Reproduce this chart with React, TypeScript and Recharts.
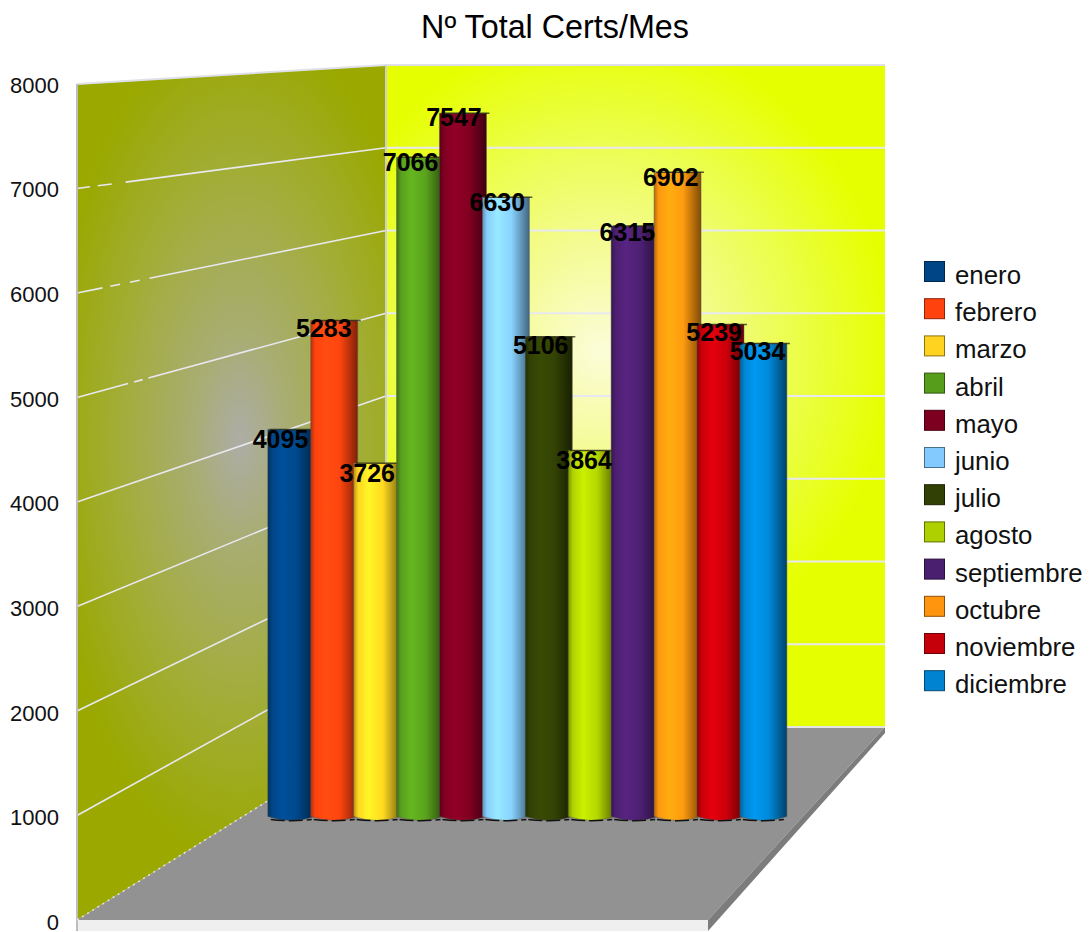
import { Bar, ComposedChart, Customized, LabelList, Line, XAxis, YAxis } from "recharts";

const months = [
  "enero", "febrero", "marzo", "abril", "mayo", "junio",
  "julio", "agosto", "septiembre", "octubre", "noviembre", "diciembre",
];
const certs = [4095, 5283, 3726, 7066, 7547, 6630, 5106, 3864, 6315, 6902, 5239, 5034];
const colors = [
  "#004586", "#ff420e", "#ffd320", "#579d1c", "#7e0021", "#83caff",
  "#314004", "#aecf00", "#4b1f6f", "#ff950e", "#c5000b", "#0084d1",
];
const yTicks = [0, 1000, 2000, 3000, 4000, 5000, 6000, 7000, 8000];

const data = months.map((mes, i) => ({ mes, total: certs[i] }));

const FONT = "'Liberation Sans', Arial, sans-serif";
const BAR_W = 47;

// walls of the fake 3d box
const frontY = (v: number) => 920 - (v * 836) / 8000;
const backY = (v: number) => 727 - (v * 662) / 8000;

// the reference's grid lines break up near the left edge of the side wall
const wallDash: Record<number, string> = {
  5000: "53 6 9 6 999",
  6000: "26 8 10 10 10 10 999",
  7000: "13 8 14 14 999",
};

function shade(hex: string, k: number) {
  const n = parseInt(hex.slice(1), 16);
  const ch = (c: number) => Math.min(255, Math.round(c * k));
  return `rgb(${ch((n >> 16) & 255)},${ch((n >> 8) & 255)},${ch(n & 255)})`;
}

function Box() {
  return (
    <g>
      <defs>
        <radialGradient id="wallLeft" gradientUnits="userSpaceOnUse" cx="240" cy="440" r="400"
          gradientTransform="translate(240 440) scale(0.48 1.05) translate(-240 -440)">
          <stop offset="0%" stopColor="#adada6" />
          <stop offset="25%" stopColor="#a8ad72" />
          <stop offset="65%" stopColor="#a2ad35" />
          <stop offset="100%" stopColor="#9aa800" />
        </radialGradient>
        <radialGradient id="wallBack" gradientUnits="userSpaceOnUse" cx="600" cy="350" r="290"
          gradientTransform="translate(600 350) scale(1 1.1) translate(-600 -350)">
          <stop offset="0%" stopColor="#fbfdd8" />
          <stop offset="35%" stopColor="#f4fb90" />
          <stop offset="70%" stopColor="#ebfe45" />
          <stop offset="100%" stopColor="#e6ff00" />
        </radialGradient>
        {colors.map((c, i) => (
          <linearGradient key={c} id={`cyl${i}`} x1="0" y1="0" x2="1" y2="0">
            <stop offset="0%" stopColor={shade(c, 0.72)} />
            <stop offset="10%" stopColor={shade(c, 1.02)} />
            <stop offset="32%" stopColor={shade(c, 1.16)} />
            <stop offset="62%" stopColor={shade(c, 1.04)} />
            <stop offset="100%" stopColor={shade(c, 0.5)} />
          </linearGradient>
        ))}
      </defs>
      <polygon points="77,84 386,65 386,727 77,920" fill="url(#wallLeft)" />
      <polygon points="386,65 885,65 885,727 386,727" fill="url(#wallBack)" />
      <polygon points="77,920 386,727 885,727 708,920" fill="#929292" />
      <polygon points="77,920 708,920 708,931 77,931" fill="#efefef" />
      <polygon points="708,920 885,727 885,733 708,931" fill="#7c7c7c" />
      {yTicks.slice(1, 8).map((v) => (
        <g key={v} stroke="#e8e8f0">
          <line x1={77} y1={frontY(v)} x2={386} y2={backY(v)} strokeWidth={1.6} strokeDasharray={wallDash[v]} />
          <line x1={386} y1={backY(v)} x2={885} y2={backY(v)} strokeWidth={2} />
        </g>
      ))}
      <polyline points="77,84 386,65 885,65" fill="none" stroke="#e0e0ea" strokeWidth={2} />
      <line x1={77} y1={84} x2={77} y2={931} stroke="#bdbdbd" strokeWidth={2} />
      <line x1={386} y1={65} x2={386} y2={727} stroke="#d0d0d0" strokeWidth={2} />
      <line x1={386} y1={727} x2={885} y2={727} stroke="#e4e4e4" strokeWidth={2} />
      <line x1={77} y1={920} x2={386} y2={727} stroke="#e4e4e4" strokeWidth={1.5} strokeDasharray="2 4" />
      <text x={555} y={38} textAnchor="middle" fontFamily={FONT} fontSize={32.3} fill="#000">
        Nº Total Certs/Mes
      </text>
      {months.map((m, i) => (
        <g key={m}>
          <rect x={924.5} y={261.5 + i * 37.2} width={20} height={20} fill={colors[i]} stroke={shade(colors[i], 0.55)} />
          <text x={955} y={284 + i * 37.2} fontFamily={FONT} fontSize={25.8} fill="#111">
            {m}
          </text>
        </g>
      ))}
    </g>
  );
}

function Cylinder(props: any) {
  const { x, y, width, height, index } = props;
  const left = x + width / 2 - BAR_W / 2;
  const bottom = y + height + 12;
  return (
    <g>
      <path
        d={`M${left},${y} L${left},${bottom} Q${left + BAR_W / 2},${bottom + 8} ${left + BAR_W},${bottom} L${left + BAR_W},${y} Z`}
        fill={`url(#cyl${index})`}
        stroke="#555"
        strokeOpacity={0.45}
      />
      <path
        d={`M${left + 3},${bottom + 3} Q${left + BAR_W / 2},${bottom + 5.5} ${left + BAR_W - 3},${bottom + 3}`}
        fill="none"
        stroke="#111"
        strokeWidth={1.5}
        strokeDasharray="14 4"
      />
      <line x1={left + 2} y1={y} x2={left + BAR_W + 3} y2={y} stroke="#2a2a10" strokeOpacity={0.75} strokeWidth={1.5} />
    </g>
  );
}

function BarValue(props: any) {
  const { x, y, width, value, index } = props;
  return (
    <text
      x={x + width / 2 - 10.8 + 0.45 * index}
      y={y + 15.9 - 0.0016 * value}
      dy="0.36em"
      textAnchor="middle"
      fontFamily={FONT}
      fontSize={25}
      fontWeight={700}
      fill="#000"
    >
      {value}
    </text>
  );
}

export default function App() {
  return (
    <div style={{ position: "absolute", left: 0, top: 0, width: 1090, height: 932, background: "#fff" }}>
      <ComposedChart
        width={1090}
        height={932}
        data={data}
        margin={{ top: 85, right: 205, bottom: 10, left: 0 }}
      >
        <Customized component={Box} />
        <XAxis dataKey="mes" hide padding={{ left: 193, right: 100 }} />
        <YAxis
          yAxisId="front"
          domain={[0, 8000]}
          ticks={yTicks}
          width={77}
          interval={0}
          axisLine={false}
          tickLine={false}
          tickSize={0}
          tickMargin={18}
          tick={{ fontSize: 22, fontFamily: FONT, fill: "#111" }}
        />
        <YAxis yAxisId="bars" hide width={0} domain={[-1283, 7855]} allowDataOverflow />
        {/* invisible, only here so the front axis gets drawn */}
        <Line yAxisId="front" dataKey="total" stroke="none" dot={false} activeDot={false} isAnimationActive={false} />
        <Bar yAxisId="bars" dataKey="total" shape={Cylinder} isAnimationActive={false}>
          <LabelList dataKey="total" content={BarValue} />
        </Bar>
      </ComposedChart>
    </div>
  );
}
